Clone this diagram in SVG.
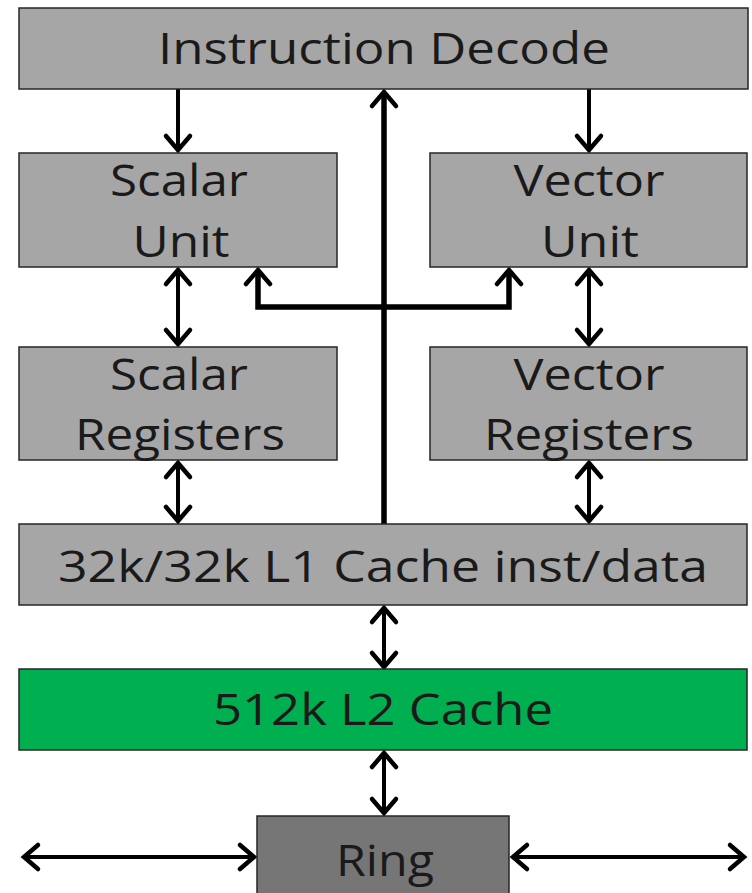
<svg xmlns="http://www.w3.org/2000/svg" width="752" height="893" viewBox="0 0 752 893">
<style>
.box{fill:#a6a6a6;stroke:#262626;stroke-width:1.5}
.l2{fill:#00b050;stroke:#262626;stroke-width:1.5}
.ring{fill:#767676;stroke:#262626;stroke-width:1.5}
.t{font-family:"Open Sans","Liberation Sans",sans-serif;font-size:44px;fill:#1a1a1a;text-anchor:middle}
.c{fill:none;stroke:#000;stroke-width:4;stroke-linejoin:miter}
.cw{fill:none;stroke:#000;stroke-width:5.5;stroke-linejoin:miter}
</style>
<defs>
<marker id="ah" markerUnits="userSpaceOnUse" markerWidth="40" markerHeight="40" viewBox="-20 -20 40 40" refX="0" refY="0" orient="auto-start-reverse" overflow="visible">
<path d="M-14,-12 L0,0 L-14,12" fill="none" stroke="#000" stroke-width="4.5" stroke-linecap="round" stroke-linejoin="miter"/>
</marker>
</defs>
<g id="connectors">
<line class="c" x1="178" y1="89" x2="178" y2="150" marker-end="url(#ah)"/>
<line class="c" x1="589" y1="89" x2="589" y2="150" marker-end="url(#ah)"/>
<line class="cw" x1="384" y1="524" x2="384" y2="92" marker-end="url(#ah)"/>
<polyline class="cw" points="258,270 258,307 509,307 509,270" marker-start="url(#ah)" marker-end="url(#ah)"/>
<line class="c" x1="178" y1="270" x2="178" y2="344" marker-start="url(#ah)" marker-end="url(#ah)"/>
<line class="c" x1="589" y1="270" x2="589" y2="344" marker-start="url(#ah)" marker-end="url(#ah)"/>
<line class="c" x1="178" y1="463" x2="178" y2="521" marker-start="url(#ah)" marker-end="url(#ah)"/>
<line class="c" x1="589" y1="463" x2="589" y2="521" marker-start="url(#ah)" marker-end="url(#ah)"/>
<line class="c" x1="384" y1="608" x2="384" y2="667" marker-start="url(#ah)" marker-end="url(#ah)"/>
<line class="c" x1="384" y1="753" x2="384" y2="813" marker-start="url(#ah)" marker-end="url(#ah)"/>
<line class="c" x1="24" y1="857" x2="254" y2="857" marker-start="url(#ah)" marker-end="url(#ah)"/>
<line class="c" x1="513" y1="857" x2="744" y2="857" marker-start="url(#ah)" marker-end="url(#ah)"/>
</g>
<g id="instruction-decode">
<rect class="box" x="19" y="8" width="729" height="81"/>
<text class="t" x="384" y="64" textLength="452" lengthAdjust="spacingAndGlyphs">Instruction Decode</text>
</g>
<g id="scalar-unit">
<rect class="box" x="19" y="153" width="318" height="114"/>
<text class="t" x="179" y="196" textLength="138" lengthAdjust="spacingAndGlyphs">Scalar</text>
<text class="t" x="181" y="257" textLength="97" lengthAdjust="spacingAndGlyphs">Unit</text>
</g>
<g id="vector-unit">
<rect class="box" x="430" y="153" width="317" height="114"/>
<text class="t" x="589" y="196" textLength="151" lengthAdjust="spacingAndGlyphs">Vector</text>
<text class="t" x="590" y="257" textLength="98" lengthAdjust="spacingAndGlyphs">Unit</text>
</g>
<g id="scalar-registers">
<rect class="box" x="19" y="347" width="318" height="113"/>
<text class="t" x="179" y="390" textLength="138" lengthAdjust="spacingAndGlyphs">Scalar</text>
<text class="t" x="180" y="450" textLength="210" lengthAdjust="spacingAndGlyphs">Registers</text>
</g>
<g id="vector-registers">
<rect class="box" x="430" y="347" width="317" height="113"/>
<text class="t" x="589" y="390" textLength="151" lengthAdjust="spacingAndGlyphs">Vector</text>
<text class="t" x="589" y="450" textLength="210" lengthAdjust="spacingAndGlyphs">Registers</text>
</g>
<g id="l1-cache">
<rect class="box" x="19" y="524" width="728" height="81"/>
<text class="t" x="383" y="582" textLength="650" lengthAdjust="spacingAndGlyphs">32k/32k L1 Cache inst/data</text>
</g>
<g id="l2-cache">
<rect class="l2" x="19" y="669" width="728" height="81"/>
<text class="t" x="383" y="725" textLength="340" lengthAdjust="spacingAndGlyphs">512k L2 Cache</text>
</g>
<g id="ring">
<rect class="ring" x="257" y="816" width="252" height="90"/>
<text class="t" x="385" y="876" textLength="98" lengthAdjust="spacingAndGlyphs">Ring</text>
</g>
</svg>
